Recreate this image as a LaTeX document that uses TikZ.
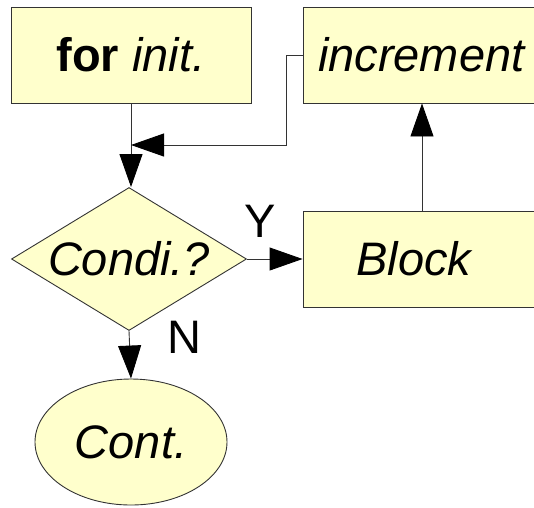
\documentclass[tikz,border=0pt]{standalone}
\usepackage{fontspec}
\setmainfont{Liberation Sans}
\usetikzlibrary{shapes.geometric,arrows.meta,calc}
\definecolor{fillY}{HTML}{FFFFCC}
\definecolor{edgeC}{HTML}{333333}
\definecolor{lineC}{HTML}{333333}
\tikzset{
  bigfont/.style={font=\fontsize{47}{52}\selectfont},
  box/.style={draw=edgeC, fill=fillY, line width=0.9pt, inner sep=0pt, bigfont},
  cond/.style={draw=edgeC, fill=fillY, line width=0.9pt, diamond, inner sep=0pt, shape aspect=1.64, bigfont},
  term/.style={draw=edgeC, fill=fillY, line width=0.9pt, ellipse, inner sep=0pt, bigfont},
  conn/.style={draw=lineC, line width=0.9pt, -{Triangle[length=33pt,width=23pt,color=black]}},
  lbl/.style={bigfont, inner sep=0pt}
}
\begin{document}
\begin{tikzpicture}[x=1pt,y=-1pt]
\useasboundingbox (0,0) rectangle (534,507);
\clip (0,0) rectangle (534,507);
\node[box, minimum width=240pt, minimum height=96pt] (init) at (131,55) {\textbf{for} \textit{init.}};
\node[box, minimum width=238pt, minimum height=96pt] (inc) at (422,55) {\textit{increment}};
\node[cond, minimum width=235pt, minimum height=143pt] (cond) at (129,259) {\textit{Condi.?}};
\node[box, minimum width=238pt, minimum height=96pt] (block) at (422,259) {\textit{Block}\hspace*{14pt}};
\node[term, minimum width=192pt, minimum height=126pt] (cont) at (131,442) {\textit{Cont.}};
\node[lbl] (ylab) at (260,221) {Y};
\node[lbl] (nlab) at (184,337) {N};
\coordinate (bend) at (286,55);
\coordinate (merge) at (131,145);
\draw[conn] (init.south) -- (init.south |- cond.north);
\draw[conn] (inc.west) -- (bend) |- (merge);
\draw[conn] (cond.east) -- (block.west);
\draw[conn] (block.north) -- (inc.south);
\draw[conn] (cond.south) -- (cont.north);
\end{tikzpicture}
\end{document}
